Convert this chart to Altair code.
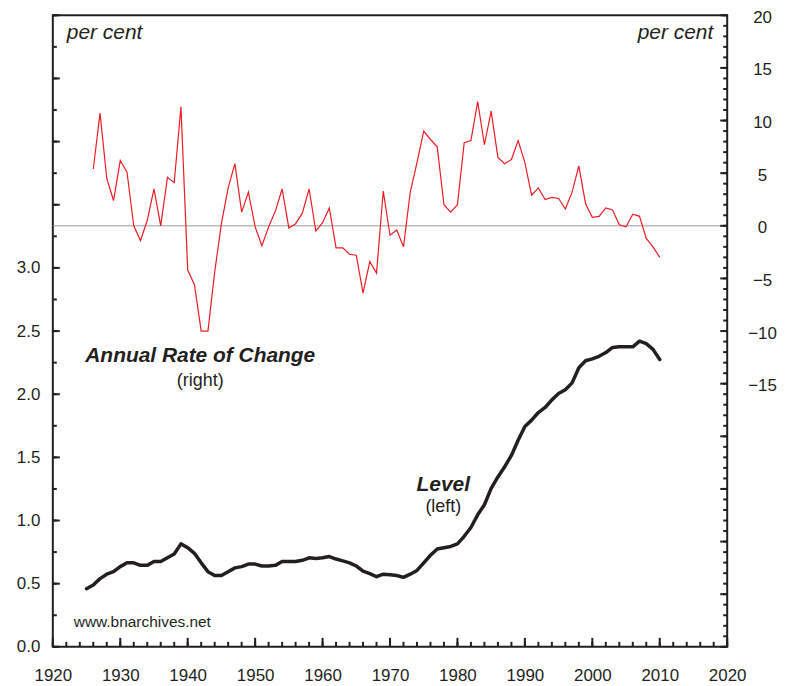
import altair as alt
import pandas as pd

# ---------------- data ----------------
level_years = list(range(1925, 2011))
level_values = [
    0.46, 0.49, 0.54, 0.575, 0.595, 0.635, 0.665, 0.665, 0.645, 0.645,
    0.675, 0.675, 0.705, 0.735, 0.815, 0.785, 0.74, 0.665, 0.595, 0.565,
    0.565, 0.595, 0.625, 0.635, 0.655, 0.655, 0.64, 0.64, 0.645, 0.675,
    0.675, 0.675, 0.685, 0.705, 0.70, 0.705, 0.715, 0.695, 0.68, 0.665,
    0.64, 0.60, 0.58, 0.555, 0.575, 0.57, 0.565, 0.55, 0.575, 0.605,
    0.665, 0.725, 0.775, 0.785, 0.795, 0.815, 0.875, 0.945, 1.045, 1.125,
    1.255, 1.345, 1.425, 1.515, 1.635, 1.745, 1.795, 1.855, 1.895, 1.955,
    2.005, 2.035, 2.09, 2.21, 2.265, 2.28, 2.30, 2.33, 2.37, 2.375,
    2.375, 2.375, 2.42, 2.40, 2.355, 2.275,
]

rate_years = list(range(1926, 2011))
rate_values = [
    5.4, 10.7, 4.5, 2.4, 6.2, 5.1, 0.0, -1.4, 0.5, 3.5,
    0.0, 4.6, 4.1, 11.3, -4.2, -5.6, -10.0, -10.0, -4.4, 0.2,
    3.6, 5.9, 1.3, 3.2, -0.1, -1.9, -0.1, 1.4, 3.5, -0.2,
    0.2, 1.2, 3.5, -0.5, 0.3, 1.7, -2.1, -2.1, -2.7, -2.8,
    -6.4, -3.4, -4.5, 3.3, -0.9, -0.4, -2.0, 3.2, 6.0, 9.0,
    8.2, 7.5, 2.0, 1.3, 2.0, 7.9, 8.1, 11.8, 7.7, 10.9,
    6.5, 5.9, 6.3, 8.1, 6.0, 2.9, 3.6, 2.5, 2.7, 2.6,
    1.6, 3.2, 5.7, 2.1, 0.8, 0.9, 1.7, 1.5, 0.1, -0.1,
    1.1, 0.9, -1.2, -2.0, -3.0,
]

x_label_years = [1920, 1930, 1940, 1950, 1960, 1970, 1980, 1990, 2000, 2010, 2020]
x_minor_years = list(range(1920, 2021, 2))
left_labels = [0.0, 0.5, 1.0, 1.5, 2.0, 2.5, 3.0]
left_major = [i / 2 for i in range(0, 11)]
left_minor = [i / 4 for i in range(0, 21)]
right_labels = [20, 15, 10, 5, 0, -5, -10, -15]
right_major = list(range(-40, 21, 5))
right_minor = list(range(-40, 21))
zero_line = [0]

unit_texts = ["per cent", "per cent"]
rate_texts = ["Annual Rate of Change", "(right)"]
level_texts = ["Level", "(left)"]
source_text = ["www.bnarchives.net"]

# ---------------- styling ----------------
INK = "#231f20"
RED = "#ec1c24"
FONT = "Liberation Sans"
W, H = 677, 634

x_scale = alt.Scale(domain=[1920, 2020], nice=False, zero=False)
left_scale = alt.Scale(domain=[0, 5], nice=False, zero=False)
right_scale = alt.Scale(domain=[-40, 20], nice=False, zero=False)

df_level = pd.DataFrame({"year": level_years, "level": level_values})
df_rate = pd.DataFrame({"year": rate_years, "rate": rate_values})


def x_ticks(values, length):
    """Inward ticks on the bottom frame edge, placed by the x scale."""
    return alt.Chart(pd.DataFrame({"v": values})).mark_rule(
        color=INK, strokeWidth=2
    ).encode(
        x=alt.X("v:Q", scale=x_scale, axis=None),
        y=alt.value(H), y2=alt.value(H - length),
    )


def y_ticks(values, scale, edge, length):
    """Inward ticks on a side frame edge, placed by the given y scale."""
    inward = length if edge == 0 else -length
    return alt.Chart(pd.DataFrame({"v": values})).mark_rule(
        color=INK, strokeWidth=2
    ).encode(
        y=alt.Y("v:Q", scale=scale, axis=None),
        x=alt.value(edge), x2=alt.value(edge + inward),
    )


tick_layers = [
    x_ticks(x_minor_years, 5),
    x_ticks(x_label_years, 9),
    y_ticks(left_minor, left_scale, 0, 4),
    y_ticks(left_major, left_scale, 0, 7),
    y_ticks(right_minor, right_scale, W, 4),
    y_ticks(right_major, right_scale, W, 7),
]

zero_rule = alt.Chart(pd.DataFrame({"v": zero_line})).mark_rule(
    color="#9b9b9b", strokeWidth=1
).encode(
    y=alt.Y("v:Q", scale=right_scale, axis=None)
)

rate_line = alt.Chart(df_rate).mark_line(color=RED, strokeWidth=1.2).encode(
    x=alt.X("year:Q", scale=x_scale, axis=None),
    y=alt.Y("rate:Q", scale=right_scale,
            axis=alt.Axis(orient="right", values=right_labels, ticks=False, tickSize=0,
                          domain=False, grid=False, labelAlign="center", labelPadding=35,
                          labelOffset=2, labelFlush=False, labelOverlap=False, title=None)),
)

level_line = alt.Chart(df_level).mark_line(
    color=INK, strokeWidth=3.5, strokeJoin="round", strokeCap="round"
).encode(
    x=alt.X("year:Q", scale=x_scale,
            axis=alt.Axis(orient="bottom", values=x_label_years, format="d", ticks=False,
                          tickSize=0, domain=False, grid=False, labelPadding=21,
                          labelFlush=False, labelOverlap=False, title=None)),
    y=alt.Y("level:Q", scale=left_scale,
            axis=alt.Axis(orient="left", values=left_labels, format=".1f", ticks=False,
                          tickSize=0, domain=False, grid=False, labelPadding=13,
                          labelFlush=False, labelOverlap=False, title=None)),
)


def note(text, x, y, size, style="normal", weight="normal", align="left"):
    return alt.Chart(pd.DataFrame({"t": [text]})).mark_text(
        font=FONT, fontSize=size, fontStyle=style, fontWeight=weight,
        align=align, baseline="alphabetic", color=INK,
    ).encode(x=alt.value(x), y=alt.value(y), text="t:N")


notes = [
    note(unit_texts[0], 14, 24, 21, style="italic"),
    note(unit_texts[1], 663, 24, 21, style="italic", align="right"),
    note(rate_texts[0], 148, 348, 21, style="italic", weight="bold", align="center"),
    note(rate_texts[1], 148, 372, 18, align="center"),
    note(level_texts[0], 392, 478, 21, style="italic", weight="bold", align="center"),
    note(level_texts[1], 392, 499, 18, align="center"),
    note(source_text[0], 21, 614, 15.5),
]

chart = alt.layer(
    zero_rule, *tick_layers, rate_line, level_line, *notes
).resolve_scale(
    x="independent", y="independent"
).properties(
    width=W, height=H,
    padding={"left": 45, "top": 6, "right": 50, "bottom": 36},
    autosize=alt.AutoSizeParams(type="none"),
).configure_view(
    stroke=INK, strokeWidth=2
).configure_axis(
    labelFont=FONT, labelFontSize=17, labelColor=INK
)

chart.save("out.html", embed_options={"renderer": "svg", "actions": False})
